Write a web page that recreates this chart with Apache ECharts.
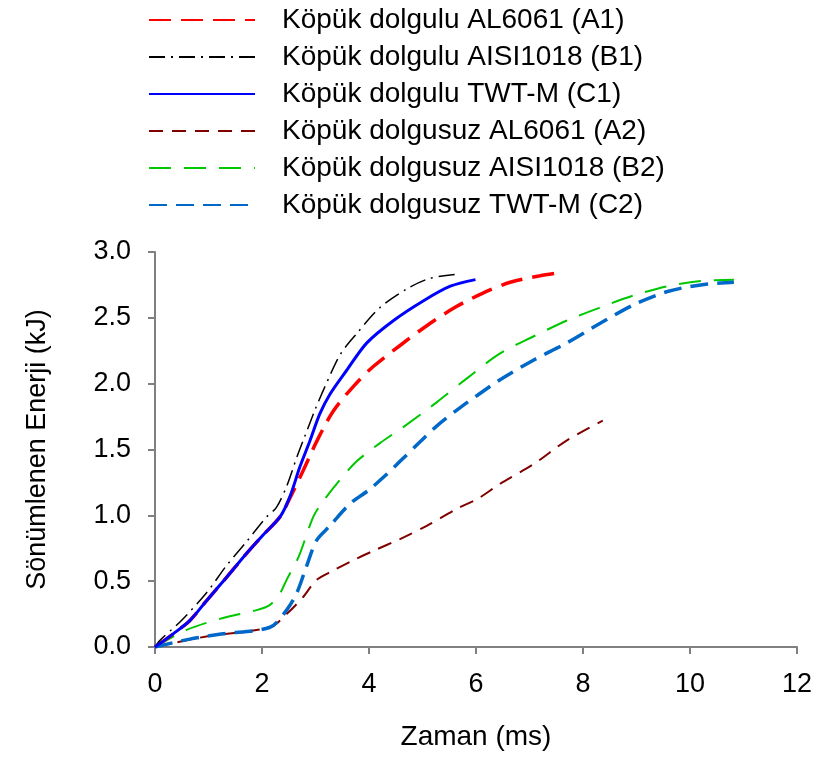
<!DOCTYPE html>
<html>
<head>
<meta charset="utf-8">
<script src="https://cdn.jsdelivr.net/npm/echarts@6/dist/echarts.min.js"></script>
<style>html,body{margin:0;padding:0;background:#fff;}#c{width:821px;height:762px;}</style>
</head>
<body>
<div id="c"></div>
<script>
var xTicks = [0, 2, 4, 6, 8, 10, 12];
var yTicks = [0.0, 0.5, 1.0, 1.5, 2.0, 2.5, 3.0];

var seriesNames = [
  'Köpük dolgulu AL6061 (A1)',
  'Köpük dolgulu AISI1018 (B1)',
  'Köpük dolgulu TWT-M (C1)',
  'Köpük dolgusuz AL6061 (A2)',
  'Köpük dolgusuz AISI1018 (B2)',
  'Köpük dolgusuz TWT-M (C2)'
];

var A1_t = [0, 0.34, 0.65, 0.96, 1.34, 1.71, 2.02, 2.34, 2.52, 2.77, 3.02, 3.33, 3.71, 4.08, 4.58, 5.08, 5.61, 6.14, 6.64, 7.20, 7.52];
var A1_E = [0, 0.10, 0.20, 0.35, 0.53, 0.71, 0.85, 0.99, 1.13, 1.34, 1.56, 1.79, 1.98, 2.13, 2.29, 2.44, 2.58, 2.69, 2.77, 2.82, 2.84];

var B1_t = [0, 0.09, 0.49, 0.96, 1.34, 1.71, 2.09, 2.27, 2.46, 2.65, 2.80, 2.99, 3.18, 3.46, 3.77, 4.21, 4.71, 5.14, 5.64];
var B1_E = [0, 0.05, 0.20, 0.41, 0.62, 0.80, 0.99, 1.06, 1.22, 1.44, 1.60, 1.80, 1.98, 2.22, 2.38, 2.58, 2.72, 2.80, 2.83];

var C1_t = [0, 0.34, 0.65, 0.96, 1.34, 1.71, 2.02, 2.34, 2.52, 2.71, 2.90, 3.08, 3.27, 3.58, 3.96, 4.46, 5.02, 5.52, 5.99];
var C1_E = [0, 0.10, 0.20, 0.35, 0.53, 0.71, 0.85, 0.99, 1.14, 1.37, 1.57, 1.77, 1.92, 2.10, 2.31, 2.48, 2.63, 2.74, 2.79];

var A2_t = [0, 0.96, 2.15, 2.46, 2.77, 3.02, 3.33, 3.71, 4.08, 4.58, 5.08, 5.64, 6.05, 6.45, 7.08, 7.70, 8.37];
var A2_E = [0, 0.08, 0.15, 0.25, 0.38, 0.51, 0.58, 0.66, 0.73, 0.82, 0.92, 1.05, 1.13, 1.24, 1.39, 1.57, 1.72];

var B2_t = [0, 0.59, 1.27, 1.90, 2.15, 2.34, 2.46, 2.68, 2.96, 3.15, 3.46, 3.77, 4.21, 4.64, 5.27, 5.86, 6.45, 7.08, 7.70, 8.33, 8.95, 9.58, 10.20, 10.82];
var B2_E = [0, 0.13, 0.22, 0.28, 0.32, 0.41, 0.51, 0.68, 0.99, 1.11, 1.27, 1.41, 1.55, 1.67, 1.86, 2.05, 2.23, 2.36, 2.48, 2.58, 2.67, 2.74, 2.78, 2.79];

var C2_t = [0, 0.65, 1.27, 2.15, 2.46, 2.65, 2.83, 3.02, 3.27, 3.65, 3.99, 4.30, 4.58, 4.96, 5.27, 5.71, 6.02, 6.45, 7.08, 7.70, 8.33, 8.95, 9.58, 10.20, 10.82];
var C2_E = [0, 0.06, 0.10, 0.15, 0.28, 0.41, 0.61, 0.81, 0.92, 1.09, 1.19, 1.30, 1.41, 1.56, 1.68, 1.82, 1.91, 2.03, 2.18, 2.31, 2.46, 2.60, 2.70, 2.75, 2.77];

function zip(t, e) { return t.map(function (v, i) { return [v, e[i]]; }); }

var styles = [
  { color: '#ff0000', width: 3.5, type: [22, 10], z: 3 },
  { color: '#000000', width: 1.5, type: [16, 6, 2, 6], z: 5 },
  { color: '#0000ff', width: 3, type: 'solid', z: 6 },
  { color: '#800000', width: 2, type: [14, 9], z: 1 },
  { color: '#00c800', width: 2, type: [22, 13], z: 2 },
  { color: '#0068c8', width: 3.5, type: [18, 9], z: 4 }
];
var dataSets = [zip(A1_t, A1_E), zip(B1_t, B1_E), zip(C1_t, C1_E), zip(A2_t, A2_E), zip(B2_t, B2_E), zip(C2_t, C2_E)];

var series = seriesNames.map(function (n, i) {
  return {
    name: n,
    type: 'line',
    data: dataSets[i],
    smooth: 0.3,
    showSymbol: false,
    symbol: 'none',
    lineStyle: { color: styles[i].color, width: styles[i].width, type: styles[i].type },
    itemStyle: { color: styles[i].color },
    z: styles[i].z
  };
});

var chart = echarts.init(document.getElementById('c'), null, { renderer: 'canvas' });
chart.setOption({
  animation: false,
  backgroundColor: '#ffffff',
  textStyle: { fontFamily: 'Liberation Sans, Arial, sans-serif', color: '#000' },
  legend: {
    orient: 'vertical',
    left: 143,
    top: 0,
    itemWidth: 106,
    itemHeight: 14,
    itemGap: 7,
    data: seriesNames,
    itemStyle: { opacity: 0 },
    textStyle: { fontSize: 28, lineHeight: 30, color: '#000', fontFamily: 'Liberation Sans, Arial, sans-serif', padding: [0, 0, 0, 22] }
  },
  grid: { left: 155, right: 24, top: 252, bottom: 115, containLabel: false },
  xAxis: {
    type: 'value',
    min: xTicks[0],
    max: xTicks[xTicks.length - 1],
    interval: 2,
    name: 'Zaman (ms)',
    nameLocation: 'middle',
    nameGap: 76,
    nameTextStyle: { fontSize: 28, color: '#000' },
    axisLine: { show: true, lineStyle: { color: '#808080', width: 2 } },
    axisTick: { show: true, inside: false, length: 7, lineStyle: { color: '#808080', width: 2 } },
    axisLabel: { fontSize: 27, color: '#000', margin: 24 },
    splitLine: { show: false }
  },
  yAxis: {
    type: 'value',
    min: yTicks[0],
    max: yTicks[yTicks.length - 1],
    interval: 0.5,
    name: 'Sönümlenen Enerji (kJ)',
    nameLocation: 'middle',
    nameGap: 104,
    nameTextStyle: { fontSize: 27, color: '#000' },
    axisLine: { show: true, lineStyle: { color: '#808080', width: 2 } },
    axisTick: { show: true, inside: false, length: 7, lineStyle: { color: '#808080', width: 2 } },
    axisLabel: { fontSize: 27, color: '#000', margin: 24, formatter: function (v) { return v.toFixed(1); } },
    splitLine: { show: false }
  },
  series: series
});
</script>
</body>
</html>
